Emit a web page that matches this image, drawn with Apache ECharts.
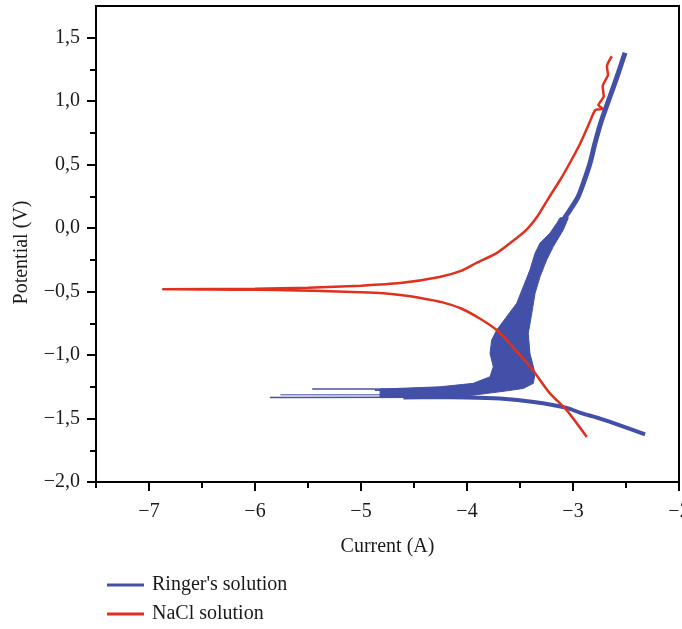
<!DOCTYPE html>
<html>
<head>
<meta charset="utf-8">
<script src="https://cdn.jsdelivr.net/npm/echarts@6/dist/echarts.min.js"></script>
<style>html,body{margin:0;padding:0;background:#fff}#c{width:682px;height:629px}</style>
</head>
<body>
<div id="c"></div>
<script>
// ---- data ----
const xMajorTicks = [-7, -6, -5, -4, -3, -2];
const xMinorTicks = [-7.5, -6.5, -5.5, -4.5, -3.5, -2.5];
const yMajorTicks = [-2, -1.5, -1, -0.5, 0, 0.5, 1, 1.5];
const yMinorTicks = [-1.75, -1.25, -0.75, -0.25, 0.25, 0.75, 1.25];

// NaCl solution (cathodic end -> Ecorr spike -> anodic end)
const naclCurve = [
  [-2.87,-1.645],[-3.06,-1.434],[-3.22,-1.300],[-3.38,-1.118],[-3.57,-0.934],[-3.72,-0.803],
  [-3.88,-0.712],[-4.05,-0.635],[-4.23,-0.585],[-4.45,-0.548],[-4.63,-0.526],[-4.79,-0.513],
  [-5.0,-0.505],[-5.3,-0.497],[-5.6,-0.491],[-6.0,-0.486],[-6.87,-0.481],
  [-6.0,-0.477],[-5.5,-0.469],[-5.0,-0.453],[-4.63,-0.433],[-4.26,-0.385],[-4.05,-0.335],
  [-3.91,-0.274],[-3.72,-0.197],[-3.58,-0.11],[-3.44,-0.013],[-3.33,0.10],[-3.23,0.237],
  [-3.12,0.381],[-3.03,0.513],[-2.93,0.671],[-2.85,0.82],[-2.79,0.93],[-2.72,0.94],
  [-2.76,0.97],[-2.71,1.039],[-2.72,1.118],[-2.67,1.21],[-2.68,1.275],[-2.634,1.354]
];

// Ringer's solution: cathodic tail (thick), Ecorr streaks (thin), noisy band, anodic upper part
const ringerTail = [
  [-2.32,-1.624],[-2.55,-1.555],[-2.745,-1.500],[-2.93,-1.455],[-3.06,-1.416],[-3.37,-1.369],
  [-3.69,-1.342],[-4.0,-1.334],[-4.3,-1.333],[-4.6,-1.334]
];
const ringerStreak1 = [[-5.86,-1.334],[-4.5,-1.333]];
const ringerStreak2 = [[-5.76,-1.313],[-4.5,-1.312]];
const ringerStreak3 = [[-5.46,-1.268],[-4.4,-1.268]];
const ringerStreak4 = [[-4.87,-1.277],[-4.4,-1.277]];
const ringerBandLeft = [
  [-4.82,-1.268],[-4.255,-1.250],[-3.941,-1.223],[-3.783,-1.171],[-3.752,-1.092],[-3.783,-0.987],
  [-3.767,-0.882],[-3.720,-0.803],[-3.626,-0.698],[-3.531,-0.592],[-3.469,-0.461],[-3.406,-0.329],
  [-3.358,-0.197],[-3.311,-0.118],[-3.217,-0.039],[-3.153,0.039],[-3.122,0.081]
];
const ringerBandRight = [
  [-3.044,0.081],[-3.091,-0.013],[-3.186,-0.145],[-3.248,-0.250],[-3.311,-0.382],[-3.358,-0.513],
  [-3.389,-0.671],[-3.422,-0.829],[-3.406,-0.987],[-3.358,-1.144],[-3.374,-1.223],[-3.469,-1.263],
  [-3.626,-1.282],[-3.941,-1.316],[-4.255,-1.334],[-4.82,-1.335]
];
const ringerUpper = [
  [-3.10,0.04],[-3.094,0.058],[-3.028,0.144],[-2.952,0.247],[-2.902,0.355],[-2.839,0.513],
  [-2.792,0.671],[-2.728,0.855],[-2.650,1.039],[-2.572,1.223],[-2.509,1.381]
];

const BLUE = '#4350a8';
const RED = '#e0301e';
const FONT = 'Liberation Serif';
const TXT = '#1a1a1a';

const fmtY = v => (v < 0 ? '\u2212' : '') + Math.abs(v).toFixed(1).replace('.', ',');
const fmtX = v => (v < 0 ? '\u2212' : '') + Math.abs(v).toFixed(0);

const chart = echarts.init(document.getElementById('c'), null, {renderer: 'canvas'});

const lineS = (data, width, extra) => Object.assign({
  type: 'line', name: "Ringer's solution", data: data, showSymbol: false, symbol: 'none',
  lineStyle: {color: BLUE, width: width}, itemStyle: {color: BLUE}, silent: true
}, extra || {});

chart.setOption({
  animation: false,
  backgroundColor: '#fff',
  grid: {left: 96, right: 3, top: 6, bottom: 147, containLabel: false, outerBoundsMode: 'none',
         show: true, borderColor: '#000', borderWidth: 2, backgroundColor: 'transparent'},
  legend: {
    orient: 'vertical', left: 107, top: 575, padding: 0, itemGap: 9,
    itemWidth: 37, itemHeight: 3,
    textStyle: {fontFamily: FONT, fontSize: 20, color: TXT, padding: [0, 0, 0, 3]},
    data: [{name: "Ringer's solution", icon: 'rect'}, {name: 'NaCl solution', icon: 'rect'}]
  },
  xAxis: [{
    type: 'value', min: -7.5, max: -2, interval: 0.5, position: 'bottom',
    name: 'Current (A)', nameLocation: 'middle', nameGap: 55,
    nameTextStyle: {fontFamily: FONT, fontSize: 20, color: TXT},
    axisLine: {show: true, onZero: false, lineStyle: {color: '#000', width: 2}},
    axisTick: {show: true, length: 9, customValues: xMajorTicks, lineStyle: {color: '#000', width: 2}},
    axisLabel: {customValues: xMajorTicks, formatter: fmtX, margin: 20, fontFamily: FONT, fontSize: 20, color: TXT},
    splitLine: {show: false}
  }, {
    type: 'value', min: -7.5, max: -2, interval: 0.5, position: 'bottom', gridIndex: 0,
    axisLine: {show: false, onZero: false},
    axisTick: {show: true, length: 6, customValues: xMinorTicks, lineStyle: {color: '#000', width: 2}},
    axisLabel: {show: false},
    splitLine: {show: false}
  }],
  yAxis: [{
    type: 'value', min: -2, max: 1.75, interval: 0.5, position: 'left',
    name: 'Potential (V)', nameLocation: 'middle', nameGap: 64,
    nameTextStyle: {fontFamily: FONT, fontSize: 20, color: TXT, padding: [0, 17, 0, 0]},
    axisLine: {show: true, onZero: false, lineStyle: {color: '#000', width: 2}},
    axisTick: {show: true, length: 9, customValues: yMajorTicks, lineStyle: {color: '#000', width: 2}},
    axisLabel: {customValues: yMajorTicks, formatter: fmtY, margin: 16, fontFamily: FONT, fontSize: 20, color: TXT},
    splitLine: {show: false}
  }, {
    type: 'value', min: -2, max: 1.75, interval: 0.5, position: 'left', gridIndex: 0,
    axisLine: {show: false, onZero: false},
    axisTick: {show: true, length: 6, customValues: yMinorTicks, lineStyle: {color: '#000', width: 2}},
    axisLabel: {show: false},
    splitLine: {show: false}
  }],
  series: [
    lineS(ringerTail, 4, {smooth: 0.3}),
    lineS(ringerStreak1, 1.5),
    lineS(ringerStreak2, 1.5, {lineStyle: {color: BLUE, width: 1.5, opacity: 0.7}}),
    lineS(ringerStreak3, 1.5),
    lineS(ringerStreak4, 1.5),
    {
      type: 'custom', name: "Ringer's solution", silent: true,
      itemStyle: {color: BLUE},
      data: [[-3.5, -1]],
      renderItem: function (params, api) {
        const pts = ringerBandLeft.concat(ringerBandRight).map(p => api.coord(p));
        return {type: 'polygon', shape: {points: pts}, style: {fill: BLUE, stroke: BLUE, lineWidth: 1}};
      }
    },
    lineS(ringerUpper, 5, {smooth: 0.3}),
    {
      type: 'line', name: 'NaCl solution', data: naclCurve, showSymbol: false, symbol: 'none',
      smooth: 0.2, lineStyle: {color: RED, width: 2.5}, itemStyle: {color: RED}, silent: true, z: 5
    }
  ]
});
</script>
</body>
</html>
